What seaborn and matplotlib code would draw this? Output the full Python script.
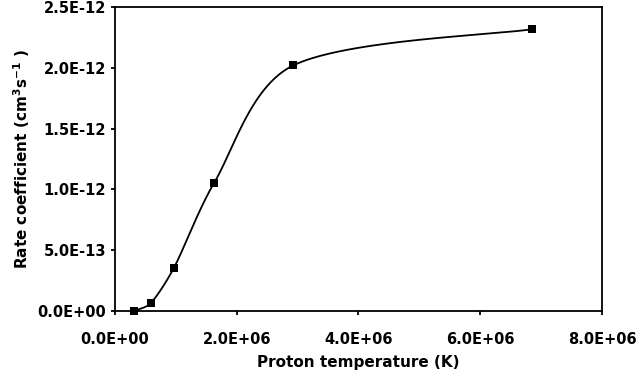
import numpy as np
import pandas as pd
import matplotlib
matplotlib.use("Agg")
import matplotlib.pyplot as plt
import seaborn as sns
from matplotlib.ticker import FuncFormatter, MultipleLocator

# Data
temperature = [0.31e6, 0.585e6, 0.967e6, 1.63e6, 2.93e6, 6.85e6]
rate = [0.0, 0.063e-12, 0.354e-12, 1.055e-12, 2.02e-12, 2.317e-12]
x_label = "Proton temperature (K)"
y_label = r"Rate coefficient (cm$^{3}$s$^{-1}$ )"

sns.set_style("ticks")
plt.rcParams["font.family"] = ["DejaVu Sans"]
plt.rcParams["font.weight"] = "bold"
plt.rcParams["mathtext.default"] = "bf"
plt.rcParams["text.color"] = "black"
plt.rcParams["axes.labelcolor"] = "black"

fig = plt.figure(figsize=(6.36, 3.78), dpi=100)
ax = fig.add_axes([115/636, 1-311/378, (602-115)/636, (311-7)/378])

xmax, ymax = 8e6, 2.5e-12
# Smoothed line (Catmull-Rom style Bezier with capped tangents, in display-proportional units)
W, H = 487.0, 304.0
px = np.array(temperature) / xmax * W
py = np.array(rate) / ymax * H
P = np.column_stack([px, py])
n = len(P)
T = np.zeros_like(P)
for i in range(n):
    a = P[max(i - 1, 0)]
    b = P[min(i + 1, n - 1)]
    T[i] = (b - a) / 6.0


def cap(v, limit):
    m = np.linalg.norm(v)
    return v if m <= limit else v * (limit / m)


curve = []
t = np.linspace(0, 1, 80)
for i in range(n - 1):
    p1, p2 = P[i], P[i + 1]
    L = np.linalg.norm(p2 - p1) / 3.0
    c1 = p1 + cap(T[i], L)
    c2 = p2 - cap(T[i + 1], L)
    seg = ((1 - t)[:, None] ** 3 * p1 + 3 * ((1 - t) ** 2 * t)[:, None] * c1
           + 3 * ((1 - t) * t ** 2)[:, None] * c2 + (t ** 3)[:, None] * p2)
    curve.append(seg if i == 0 else seg[1:])
curve = np.vstack(curve)
smooth = pd.DataFrame({"x": curve[:, 0] / W * xmax, "y": curve[:, 1] / H * ymax})

sns.lineplot(data=smooth, x="x", y="y", sort=False, color="black", lw=1.3, ax=ax,
             estimator=None)
pts = pd.DataFrame({"x": temperature, "y": rate})
sns.scatterplot(data=pts, x="x", y="y", marker="s", s=40, color="black",
                edgecolor="black", linewidth=0, ax=ax, zorder=5, clip_on=False)

ax.set_xlim(0, xmax)
ax.set_ylim(0, ymax)
ax.xaxis.set_major_locator(MultipleLocator(2e6))
ax.yaxis.set_major_locator(MultipleLocator(0.5e-12))
ax.xaxis.set_major_formatter(FuncFormatter(lambda v, p: f"{v:.1E}"))
ax.yaxis.set_major_formatter(FuncFormatter(lambda v, p: f"{v:.1E}"))
ax.xaxis.get_offset_text().set_visible(False)
ax.yaxis.get_offset_text().set_visible(False)

for s in ax.spines.values():
    s.set_visible(True)
    s.set_linewidth(1.3)
    s.set_color("black")
ax.tick_params(axis="both", direction="out", length=3, width=1.3, color="black",
               labelsize=10.5, labelcolor="black")
ax.tick_params(axis="x", pad=12)
ax.tick_params(axis="y", pad=3.5)
for lab in ax.get_xticklabels() + ax.get_yticklabels():
    lab.set_fontweight("bold")

ax.set_xlabel(x_label, fontsize=11, fontweight="bold", labelpad=6, color="black")
ax.set_ylabel(y_label, fontsize=11, fontweight="bold", labelpad=4, color="black")

fig.savefig("out.png", dpi=100)
